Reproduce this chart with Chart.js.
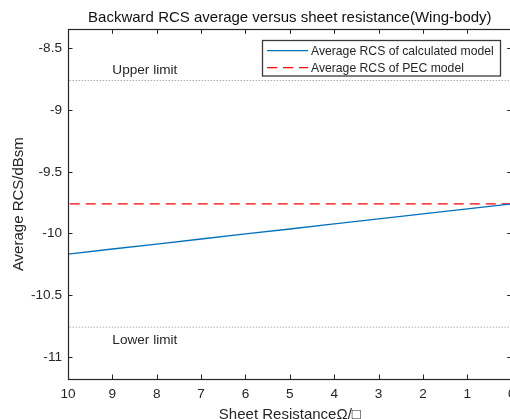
<!DOCTYPE html>
<html lang="en">
<head>
    <meta charset="UTF-8">
    <title>Backward RCS average versus sheet resistance</title>
    <script src="https://cdn.jsdelivr.net/npm/chart.js"></script>
    <style>
        html, body { margin: 0; padding: 0; background: #fff; overflow: hidden; }
        #wrap { width: 540px; height: 440px; }
    </style>
</head>
<body>
    <div id="wrap">
        <canvas id="rcsChart" width="540" height="440"></canvas>
    </div>

    <script>
        // Sheet resistance (Ohm/sq) and the averaged backward RCS (dBsm)
        const resistance = [10, 9, 8, 7, 6, 5, 4, 3, 2, 1, 0];
        const calcRcs = [-10.167, -10.126, -10.086, -10.045, -10.004, -9.964, -9.923, -9.882, -9.842, -9.801, -9.760];

        // PEC reference and the +/- 1 dB band around it
        const pecRcs = -9.76;
        const upperLimit = -8.76;
        const lowerLimit = -10.76;

        // axis ticks
        const xTicks = [0, 1, 2, 3, 4, 5, 6, 7, 8, 9, 10];
        const yTicks = [-11, -10.5, -10, -9.5, -9, -8.5];

        const chartTitle = 'Backward RCS average versus sheet resistance(Wing-body)';
        const seriesNames = ['Average RCS of calculated model', 'Average RCS of PEC model'];
        const limitNames = ['Upper limit', 'Lower limit'];

        const ink = '#262626';
        const blue = '#0072BD';
        const red = '#FF0000';
        const fontFamily = '"Liberation Sans", Arial, sans-serif';

        const flat = (v) => [{ x: 0, y: v }, { x: 10, y: v }];

        // title, inward tick marks, axes box, limit captions and legend
        const boxTicks = {
            id: 'boxTicks',
            afterDatasetsDraw(chart) {
                const { ctx, chartArea: a, scales: { x, y } } = chart;
                const len = 4.5;
                ctx.save();

                ctx.fillStyle = '#111';
                ctx.font = '15px ' + fontFamily;
                ctx.textAlign = 'center';
                ctx.textBaseline = 'middle';
                ctx.fillText(chartTitle, (a.left + a.right) / 2, 17.5);

                ctx.strokeStyle = ink;
                ctx.lineWidth = 1;
                ctx.beginPath();
                x.ticks.forEach(t => {
                    const px = Math.round(x.getPixelForValue(t.value)) + 0.5;
                    ctx.moveTo(px, a.bottom); ctx.lineTo(px, a.bottom - len);
                    ctx.moveTo(px, a.top); ctx.lineTo(px, a.top + len);
                });
                y.ticks.forEach(t => {
                    const py = Math.round(y.getPixelForValue(t.value)) + 0.5;
                    ctx.moveTo(a.left, py); ctx.lineTo(a.left + len, py);
                    ctx.moveTo(a.right, py); ctx.lineTo(a.right - len, py);
                });
                ctx.stroke();
                ctx.lineWidth = 1.2;
                ctx.strokeRect(Math.round(a.left) + 0.5, Math.round(a.top) + 0.5,
                    Math.round(a.right - a.left), Math.round(a.bottom - a.top));

                // limit captions
                ctx.fillStyle = ink;
                ctx.font = '13.6px ' + fontFamily;
                ctx.textAlign = 'left';
                ctx.fillText(limitNames[0], x.getPixelForValue(9), y.getPixelForValue(upperLimit + 0.085));
                ctx.fillText(limitNames[1], x.getPixelForValue(9), y.getPixelForValue(lowerLimit - 0.105));

                // legend box
                const lx = 262.5, ly = 40.5, lw = 238, lh = 35.5;
                ctx.fillStyle = '#fff';
                ctx.fillRect(lx, ly, lw, lh);
                ctx.strokeStyle = '#3a3a3a';
                ctx.lineWidth = 1.3;
                ctx.strokeRect(lx, ly, lw, lh);
                const rows = [
                    { name: seriesNames[0], color: blue, dash: [] },
                    { name: seriesNames[1], color: red, dash: [10, 6] }
                ];
                rows.forEach((r, i) => {
                    const ry = 50.7 + i * 17;
                    ctx.strokeStyle = r.color;
                    ctx.lineWidth = 1.3;
                    ctx.setLineDash(r.dash);
                    ctx.beginPath();
                    ctx.moveTo(267, ry); ctx.lineTo(308, ry);
                    ctx.stroke();
                    ctx.setLineDash([]);
                    ctx.fillStyle = ink;
                    ctx.font = '12.2px ' + fontFamily;
                    ctx.fillText(r.name, 311, ry + 0.5);
                });
                ctx.restore();
            }
        };

        const rcsChart = new Chart(document.getElementById('rcsChart'), {
            type: 'line',
            data: {
                datasets: [
                    {
                        label: seriesNames[0],
                        data: resistance.map((r, i) => ({ x: r, y: calcRcs[i] })),
                        borderColor: blue,
                        borderWidth: 1.3,
                        pointRadius: 0,
                        tension: 0
                    },
                    {
                        label: seriesNames[1],
                        data: flat(pecRcs),
                        borderColor: red,
                        borderWidth: 1.2,
                        borderDash: [10, 6],
                        pointRadius: 0
                    },
                    {
                        label: limitNames[0],
                        data: flat(upperLimit),
                        borderColor: '#8a8a8a',
                        borderWidth: 1,
                        borderDash: [1, 2],
                        pointRadius: 0
                    },
                    {
                        label: limitNames[1],
                        data: flat(lowerLimit),
                        borderColor: '#8a8a8a',
                        borderWidth: 1,
                        borderDash: [1, 2],
                        pointRadius: 0
                    }
                ]
            },
            options: {
                responsive: false,
                animation: false,
                devicePixelRatio: 1,
                layout: { padding: { left: 0, right: 28.3, top: 29.3, bottom: 0 } },
                plugins: {
                    legend: { display: false },
                    tooltip: { enabled: false },
                    title: { display: false }
                },
                scales: {
                    x: {
                        type: 'linear',
                        reverse: true,
                        min: 0,
                        max: 10,
                        grid: { display: false, drawTicks: false, tickLength: 0 },
                        border: { display: false },
                        afterBuildTicks: (s) => { s.ticks = xTicks.map(v => ({ value: v })); },
                        afterFit: (s) => { s.height = 61; },
                        ticks: {
                            color: ink,
                            padding: 7,
                            maxRotation: 0,
                            font: { family: fontFamily, size: 13.6 },
                            callback: (v) => String(v)
                        },
                        title: {
                            display: true,
                            text: 'Sheet ResistanceΩ/□',
                            color: ink,
                            font: { family: fontFamily, size: 15 },
                            padding: { top: 0, bottom: 16.5 }
                        }
                    },
                    y: {
                        type: 'linear',
                        min: -11.18,
                        max: -8.345,
                        grid: { display: false, drawTicks: false, tickLength: 0 },
                        border: { display: false },
                        afterBuildTicks: (s) => { s.ticks = yTicks.map(v => ({ value: v })); },
                        afterFit: (s) => { s.width = 68; },
                        ticks: {
                            color: ink,
                            padding: 6,
                            font: { family: fontFamily, size: 13.6 },
                            callback: (v) => String(v)
                        },
                        title: {
                            display: true,
                            text: 'Average RCS/dBsm',
                            color: ink,
                            font: { family: fontFamily, size: 15 },
                            padding: { top: 10, bottom: 0 }
                        }
                    }
                }
            },
            plugins: [boxTicks]
        });
    </script>
</body>
</html>
